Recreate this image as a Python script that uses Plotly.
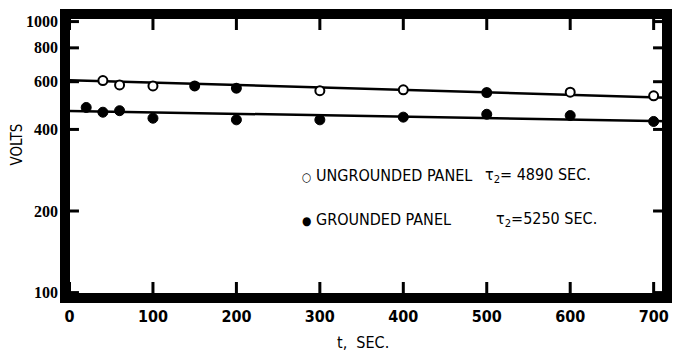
import math
import plotly.graph_objects as go

# ---- data ----
ung_t = [40, 60, 100, 150, 200, 300, 400, 500, 600, 700]
ung_v = [606, 584, 579, 579, 568, 556, 560, 547, 549, 532]
ung_filled = [False, False, False, True, True, False, False, True, False, False]

gnd_t = [20, 40, 60, 100, 200, 300, 400, 500, 600, 700]
gnd_v = [482, 463, 469, 440, 434, 434, 444, 455, 450, 428]

ung_fit_t = [0, 716]
ung_fit_v = [608, 524]
gnd_fit_t = [0, 716]
gnd_fit_v = [468, 429]

x_ticks = [0, 100, 200, 300, 400, 500, 600, 700]
y_ticks = [100, 200, 400, 600, 800, 1000]

FONT = "Liberation Sans Narrow, DejaVu Sans Condensed, Arial Narrow, sans-serif"
SERIF = "Liberation Serif, DejaVu Serif, serif"

X_RANGE = [-5.4, 716]
Y_RANGE = [1.98, 3.028]  # log10 units

fig = go.Figure()
fig.add_trace(go.Scatter(x=ung_fit_t, y=ung_fit_v, mode="lines",
                         line=dict(color="black", width=2.5), hoverinfo="skip"))
fig.add_trace(go.Scatter(x=gnd_fit_t, y=gnd_fit_v, mode="lines",
                         line=dict(color="black", width=2.5), hoverinfo="skip"))
fig.add_trace(go.Scatter(
    x=ung_t, y=ung_v, mode="markers",
    marker=dict(size=9, color=["black" if f else "white" for f in ung_filled],
                line=dict(color="black", width=2), symbol="circle")))
fig.add_trace(go.Scatter(
    x=gnd_t, y=gnd_v, mode="markers",
    marker=dict(size=10, color="black", line=dict(color="black", width=1))))

# tick marks (inside, both sides) derived from the tick arrays
shapes = []
tx = 16 / 284.0   # x-tick length as fraction of plot height
ty = 14 / 604.0   # y-tick length as fraction of plot width
for t in x_ticks:
    shapes.append(dict(type="line", xref="x", yref="paper", x0=t, x1=t, y0=0, y1=tx,
                       line=dict(color="black", width=3), layer="above"))
    shapes.append(dict(type="line", xref="x", yref="paper", x0=t, x1=t, y0=1, y1=1 - tx,
                       line=dict(color="black", width=3), layer="above"))
for v in y_ticks:
    fy = (math.log10(v) - Y_RANGE[0]) / (Y_RANGE[1] - Y_RANGE[0])
    shapes.append(dict(type="line", xref="paper", yref="paper", x0=0, x1=ty, y0=fy, y1=fy,
                       line=dict(color="black", width=3), layer="above"))
    shapes.append(dict(type="line", xref="paper", yref="paper", x0=1, x1=1 - ty, y0=fy, y1=fy,
                       line=dict(color="black", width=3), layer="above"))
# thick frame
shapes.append(dict(type="rect", xref="paper", yref="paper", x0=0, x1=1, y0=0, y1=1,
                   line=dict(color="black", width=10), layer="above"))

fig.update_layout(
    width=673, height=356,
    margin=dict(l=65, r=4, t=14, b=58),
    paper_bgcolor="white", plot_bgcolor="white",
    showlegend=False,
    xaxis=dict(range=X_RANGE, tickvals=x_ticks, ticktext=[str(v) for v in x_ticks],
               ticks="", ticklabelstandoff=7, showgrid=False, zeroline=False,
               tickfont=dict(family=FONT, size=16, color="black", weight="bold")),
    yaxis=dict(type="log", range=Y_RANGE, tickvals=y_ticks,
               ticktext=[str(v) for v in y_ticks],
               ticks="", ticklabelstandoff=6, showgrid=False, zeroline=False,
               tickfont=dict(family=SERIF, size=16, color="black", weight="bold")),
    shapes=shapes,
)

ann_font = dict(family=FONT, size=16, color="black")
fig.add_annotation(xref="paper", yref="paper", x=-0.08, y=0.54, text="VOLTS",
                   xanchor="center", yanchor="middle",
                   textangle=-90, showarrow=False, font=dict(family=FONT, size=15, color="black"))
fig.add_annotation(xref="paper", yref="paper", x=0.495, y=-0.155, text="t,  SEC.",
                   xanchor="center", yanchor="middle", showarrow=False, font=ann_font)
fig.add_annotation(xref="paper", yref="paper", x=0.39, y=0.43, xanchor="left", yanchor="middle",
                   text="<span style='font-size:12px'>○</span> UNGROUNDED PANEL",
                   showarrow=False, font=ann_font)
fig.add_annotation(xref="paper", yref="paper", x=0.695, y=0.43, xanchor="left", yanchor="middle",
                   text="τ<sub>2</sub>= 4890 SEC.", showarrow=False, font=ann_font)
fig.add_annotation(xref="paper", yref="paper", x=0.39, y=0.276, xanchor="left", yanchor="middle",
                   text="<span style='font-size:12px'>●</span> GROUNDED PANEL",
                   showarrow=False, font=ann_font)
fig.add_annotation(xref="paper", yref="paper", x=0.713, y=0.276, xanchor="left", yanchor="middle",
                   text="τ<sub>2</sub>=5250 SEC.", showarrow=False, font=ann_font)

fig.write_html("out.html")
